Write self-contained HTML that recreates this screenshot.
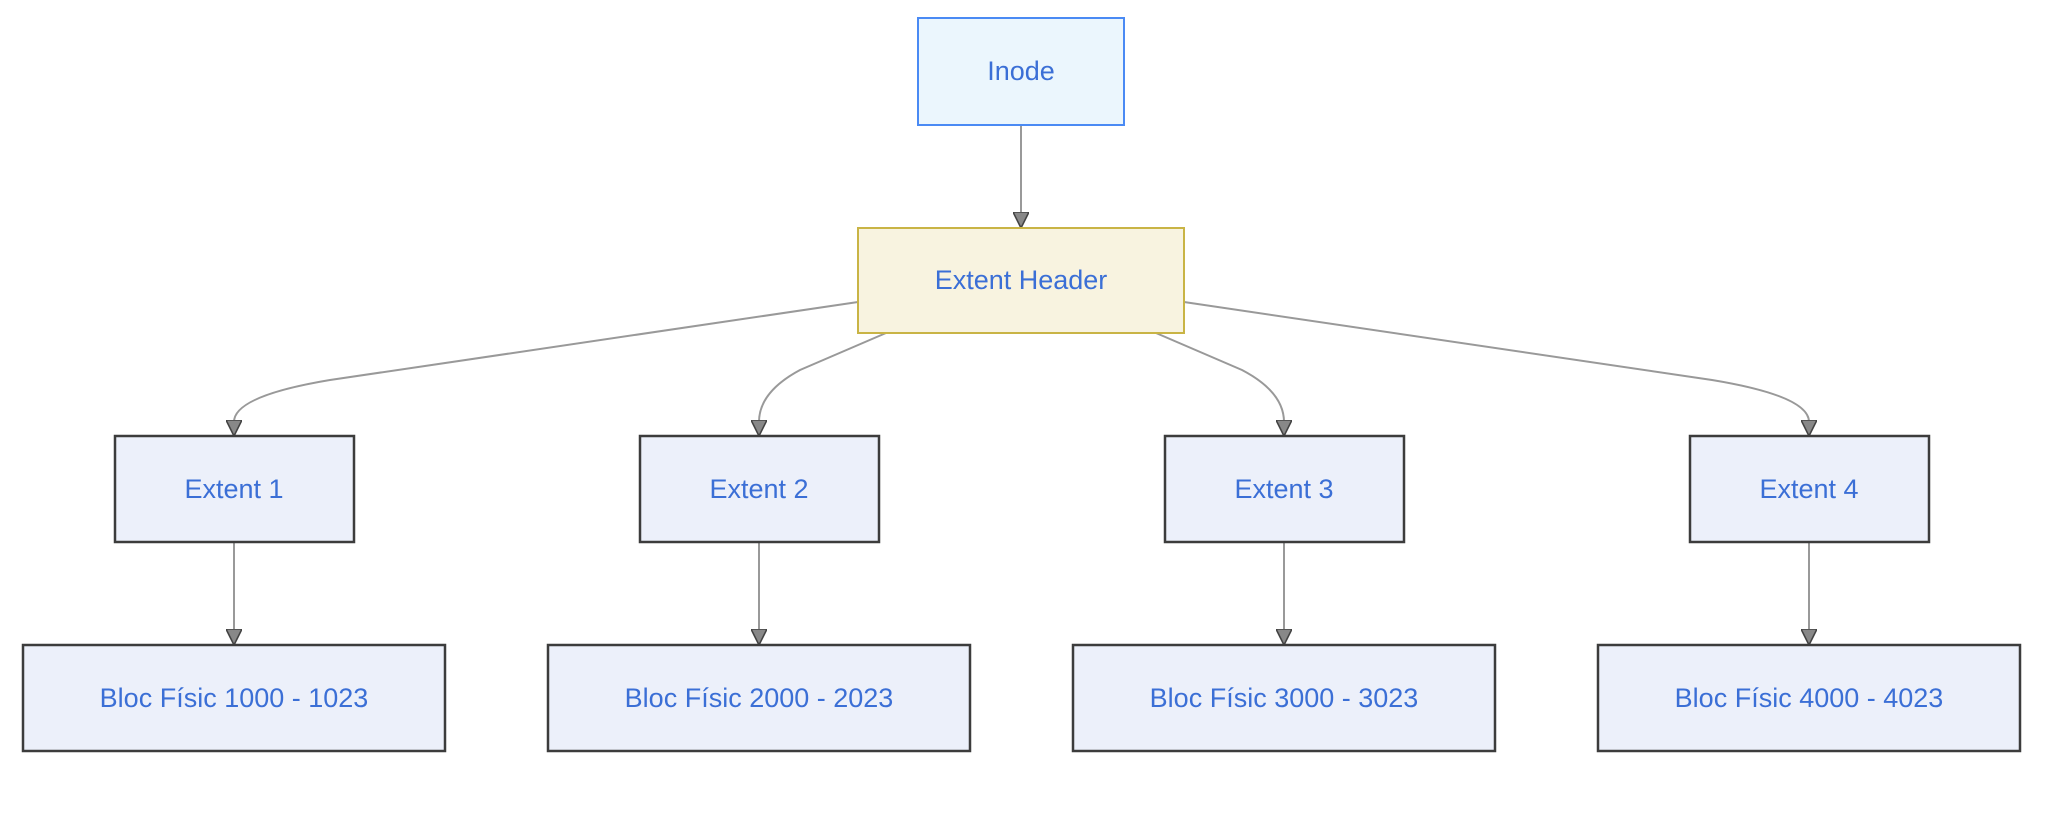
<!DOCTYPE html>
<html><head><meta charset="utf-8"><style>
html,body{margin:0;padding:0;background:#fff;}
svg{display:block}
text{font-family:"Liberation Sans",sans-serif;font-size:27px;fill:#3b6fd6;text-anchor:middle;dominant-baseline:central}
</style></head><body>
<svg width="2046" height="840" viewBox="0 0 2046 840" xmlns="http://www.w3.org/2000/svg">
<defs>
<marker id="a" viewBox="0 0 10 10" refX="10" refY="5" markerWidth="16" markerHeight="16" markerUnits="userSpaceOnUse" orient="auto">
<path d="M0,0 L10,5 L0,10 z" fill="#888" stroke="#444" stroke-width="1"/>
</marker>
</defs>
<g fill="none" stroke="#999" stroke-width="2">
<path d="M1021,125 L1021,228" marker-end="url(#a)"/>
<path d="M858,302 L330,380 Q234,396 234,422 L234,436" marker-end="url(#a)"/>
<path d="M886,333 L800,370 Q759,392 759,422 L759,436" marker-end="url(#a)"/>
<path d="M1156,333 L1242,370 Q1284,392 1284,422 L1284,436" marker-end="url(#a)"/>
<path d="M1184,302 L1712,380 Q1809,396 1809,422 L1809,436" marker-end="url(#a)"/>
<path d="M234,542 L234,645" marker-end="url(#a)"/>
<path d="M759,542 L759,645" marker-end="url(#a)"/>
<path d="M1284,542 L1284,645" marker-end="url(#a)"/>
<path d="M1809,542 L1809,645" marker-end="url(#a)"/>
</g>
<rect x="918" y="18" width="206" height="107" fill="#ebf6fd" stroke="#4a8af4" stroke-width="2"/>
<text x="1021" y="71">Inode</text>
<rect x="858" y="228" width="326" height="105" fill="#f8f3e0" stroke="#c9b445" stroke-width="2"/>
<text x="1021" y="280">Extent Header</text>
<g fill="#ecf0fa" stroke="#3c3c3c" stroke-width="2.5">
<rect x="115" y="436" width="239" height="106"/>
<rect x="640" y="436" width="239" height="106"/>
<rect x="1165" y="436" width="239" height="106"/>
<rect x="1690" y="436" width="239" height="106"/>
<rect x="23" y="645" width="422" height="106"/>
<rect x="548" y="645" width="422" height="106"/>
<rect x="1073" y="645" width="422" height="106"/>
<rect x="1598" y="645" width="422" height="106"/>
</g>
<text x="234" y="489">Extent 1</text>
<text x="759" y="489">Extent 2</text>
<text x="1284" y="489">Extent 3</text>
<text x="1809" y="489">Extent 4</text>
<text x="234" y="698">Bloc Físic 1000 - 1023</text>
<text x="759" y="698">Bloc Físic 2000 - 2023</text>
<text x="1284" y="698">Bloc Físic 3000 - 3023</text>
<text x="1809" y="698">Bloc Físic 4000 - 4023</text>
</svg>
</body></html>
